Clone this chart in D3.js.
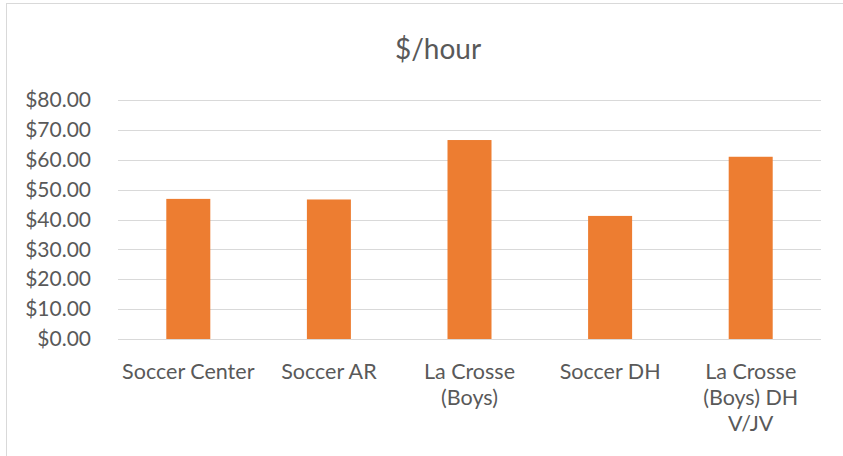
<!DOCTYPE html>
<html>
<head>
<meta charset="utf-8">
<script src="https://cdn.jsdelivr.net/npm/d3@7"></script>
<style>
  body { margin: 0; background: #fff; }
  text { font-family: Lato, "Open Sans", sans-serif; fill: #595959; }
</style>
</head>
<body>
<svg id="chart"></svg>
<script>
const width = 843;
const height = 456;

// data
const categories = ['Soccer Center', 'Soccer AR', 'La Crosse (Boys)', 'Soccer DH', 'La Crosse (Boys) DH V/JV'];
const tickLines = [['Soccer Center'], ['Soccer AR'], ['La Crosse', '(Boys)'], ['Soccer DH'], ['La Crosse', '(Boys) DH', 'V/JV']];
const values = [46.9, 46.7, 66.6, 41.2, 61.0];
const yTicks = [0, 10, 20, 30, 40, 50, 60, 70, 80];
const title = '$/hour';

const plotLeft = 118;
const plotRight = 821;
const plotTop = 100;
const plotBottom = 339;

const svg = d3.select('#chart')
    .attr('width', width)
    .attr('height', height);

// chart area border (runs off the right / bottom of the picture)
svg.append('rect')
    .attr('x', 6.5)
    .attr('y', 3.5)
    .attr('width', 900)
    .attr('height', 500)
    .attr('fill', 'none')
    .attr('stroke', '#d9d9d9');

const x = d3.scaleBand()
    .domain(categories)
    .range([plotLeft, plotRight])
    .paddingInner(0.687)
    .paddingOuter(0.687 / 2);

const y = d3.scaleLinear()
    .domain([0, 80])
    .range([plotBottom, plotTop]);

// gridlines
svg.append('g')
    .selectAll('line')
    .data(yTicks)
    .enter().append('line')
    .attr('x1', plotLeft)
    .attr('x2', plotRight)
    .attr('y1', d => Math.round(y(d)) + 0.5)
    .attr('y2', d => Math.round(y(d)) + 0.5)
    .attr('stroke', '#d9d9d9')
    .attr('stroke-width', 1);

// y axis labels
const yAxis = svg.append('g')
    .attr('transform', `translate(91, 0)`)
    .call(d3.axisLeft(y).tickValues(yTicks).tickSize(0).tickPadding(0).tickFormat(d => '$' + d3.format('.2f')(d)));
yAxis.select('.domain').remove();
yAxis.selectAll('text')
    .style('font-size', '21px')
    .style('font-family', 'Lato, sans-serif')
    .attr('fill', '#595959');

// bars
svg.append('g')
    .selectAll('rect')
    .data(values)
    .enter().append('rect')
    .attr('x', (d, i) => x(categories[i]))
    .attr('y', d => y(d))
    .attr('width', x.bandwidth())
    .attr('height', d => y(0) - y(d))
    .attr('fill', '#ed7d31');

// category labels (wrapped like the original)
const xLabels = svg.append('g')
    .selectAll('text')
    .data(categories)
    .enter().append('text')
    .attr('text-anchor', 'middle')
    .attr('x', d => x(d) + x.bandwidth() / 2)
    .attr('y', 379)
    .style('font-size', '21.5px');

xLabels.each(function(d, i) {
    const t = d3.select(this);
    tickLines[i].forEach((line, j) => {
        t.append('tspan')
            .attr('x', x(d) + x.bandwidth() / 2)
            .attr('dy', j === 0 ? 0 : 26)
            .text(line);
    });
});

// title
svg.append('text')
    .attr('x', 438)
    .attr('y', 59)
    .attr('text-anchor', 'middle')
    .style('font-size', '28px')
    .text(title);
</script>
</body>
</html>
